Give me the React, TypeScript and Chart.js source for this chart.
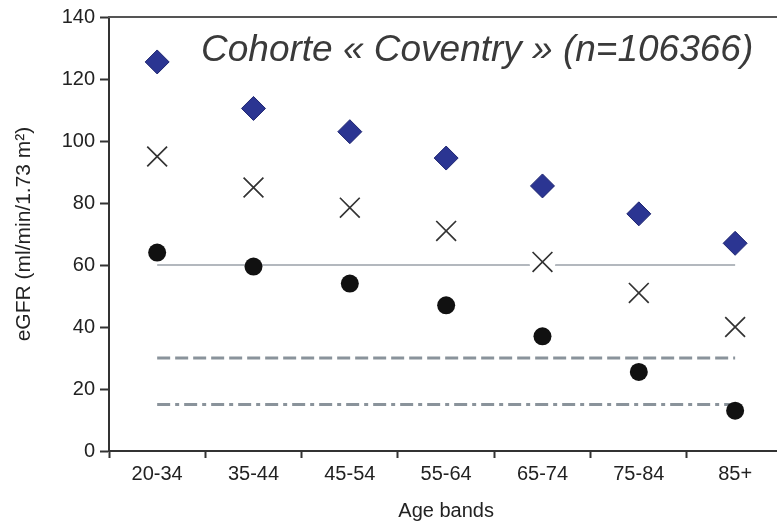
import React, { useEffect, useRef } from "react";
import { Chart, registerables } from "chart.js";

Chart.register(...registerables);

const categories = ["20-34", "35-44", "45-54", "55-64", "65-74", "75-84", "85+"];
const diamondValues = [125.5, 110.5, 103, 94.5, 85.5, 76.5, 67];
const crossValues = [95, 85, 78.5, 71, 61, 51, 40];
const circleValues = [64, 59.5, 54, 47, 37, 25.5, 13];
const solidLine = [60, 60, 60, 60, 60, 60, 60];
const dashedLine = [30, 30, 30, 30, 30, 30, 30];
const dashDotLine = [15, 15, 15, 15, 15, 15, 15];
const yTicks = [0, 20, 40, 60, 80, 100, 120, 140];
const titleText = "Cohorte « Coventry » (n=106366)";
const xTitle = "Age bands";
const yTitle = "eGFR (ml/min/1.73 m²)";

const FONT = "Arial, 'Liberation Sans', sans-serif";

export default function App() {
  const ref = useRef<HTMLCanvasElement | null>(null);
  useEffect(() => {
    if (!ref.current) return;
    const overlay = {
      id: "overlay",
      afterDraw(chart: any) {
        const { ctx, chartArea } = chart;
        ctx.save();
        ctx.strokeStyle = "#555";
        ctx.lineWidth = 2;
        ctx.beginPath();
        ctx.moveTo(chartArea.left - 1, chartArea.top);
        ctx.lineTo(chartArea.right + 20, chartArea.top);
        ctx.stroke();
        ctx.fillStyle = "#3a3a3a";
        ctx.font = "italic 37px " + FONT;
        ctx.textBaseline = "alphabetic";
        ctx.textAlign = "left";
        ctx.fillText(titleText, 201, 61);
        ctx.restore();
      },
    };
    const chart = new Chart(ref.current, {
      type: "line",
      data: {
        labels: categories,
        datasets: [
          {
            label: "diamond",
            data: diamondValues,
            showLine: false,
            pointStyle: "rectRot",
            pointRadius: 12,
            backgroundColor: "#2b3592",
            borderColor: "#1e2570",
            pointBorderWidth: 1,
            order: 1,
          },
          {
            label: "cross",
            data: crossValues,
            showLine: false,
            pointStyle: "crossRot",
            pointRadius: 14,
            borderColor: "#333",
            pointBorderWidth: 1.7,
            order: 2,
          },
          {
            label: "crossBackdrop",
            data: crossValues,
            showLine: false,
            pointStyle: "circle",
            pointRadius: 13,
            backgroundColor: "#fff",
            borderColor: "#fff",
            pointBorderWidth: 0,
            order: 3,
          },
          {
            label: "circle",
            data: circleValues,
            showLine: false,
            pointStyle: "circle",
            pointRadius: 9,
            backgroundColor: "#111",
            borderColor: "#111",
            pointBorderWidth: 0,
            order: 0,
          },
          {
            label: "60",
            data: solidLine,
            pointRadius: 0,
            borderColor: "#9aa1a8",
            borderWidth: 1.6,
            order: 10,
          },
          {
            label: "30",
            data: dashedLine,
            pointRadius: 0,
            borderColor: "#8a939b",
            borderWidth: 3,
            borderDash: [13, 5],
            order: 10,
          },
          {
            label: "15",
            data: dashDotLine,
            pointRadius: 0,
            borderColor: "#8a939b",
            borderWidth: 3,
            borderDash: [13, 5, 4, 5],
            order: 10,
          },
        ],
      },
      options: {
        animation: false,
        responsive: false,
        events: [],
        layout: { padding: { top: 16, right: 9, left: 0, bottom: 0 } },
        plugins: { legend: { display: false }, tooltip: { enabled: false } },
        scales: {
          x: {
            offset: true,
            grid: {
              offset: true,
              drawOnChartArea: false,
              drawTicks: true,
              tickLength: 7,
              tickWidth: 2,
              tickColor: "#333",
            },
            border: { display: true, color: "#333", width: 2 },
            ticks: { color: "#222", font: { family: FONT, size: 20 }, padding: 4 },
            title: {
              display: true,
              text: xTitle,
              color: "#222",
              font: { family: FONT, size: 20 },
              padding: { top: 4, bottom: 0 },
            },
            afterFit(scale: any) {
              scale.height = 72;
            },
          },
          y: {
            min: 0,
            max: 140,
            afterBuildTicks(scale: any) {
              scale.ticks = yTicks.map((v) => ({ value: v }));
            },
            grid: {
              drawOnChartArea: false,
              drawTicks: true,
              tickLength: 9,
              tickWidth: 2,
              tickColor: "#333",
            },
            border: { display: true, color: "#333", width: 2 },
            ticks: { color: "#222", font: { family: FONT, size: 20 }, padding: 5 },
            title: {
              display: true,
              text: yTitle,
              color: "#222",
              font: { family: FONT, size: 21 },
              padding: { top: 12, bottom: 0 },
            },
            afterFit(scale: any) {
              scale.width = 109;
            },
          },
        },
      },
      plugins: [overlay],
    });
    return () => chart.destroy();
  }, []);
  return (
    <div style={{ position: "absolute", left: 0, top: 0, width: 777, height: 523, overflow: "hidden", background: "#fff" }}>
      <canvas ref={ref} width={799} height={523} style={{ display: "block" }} />
    </div>
  );
}
